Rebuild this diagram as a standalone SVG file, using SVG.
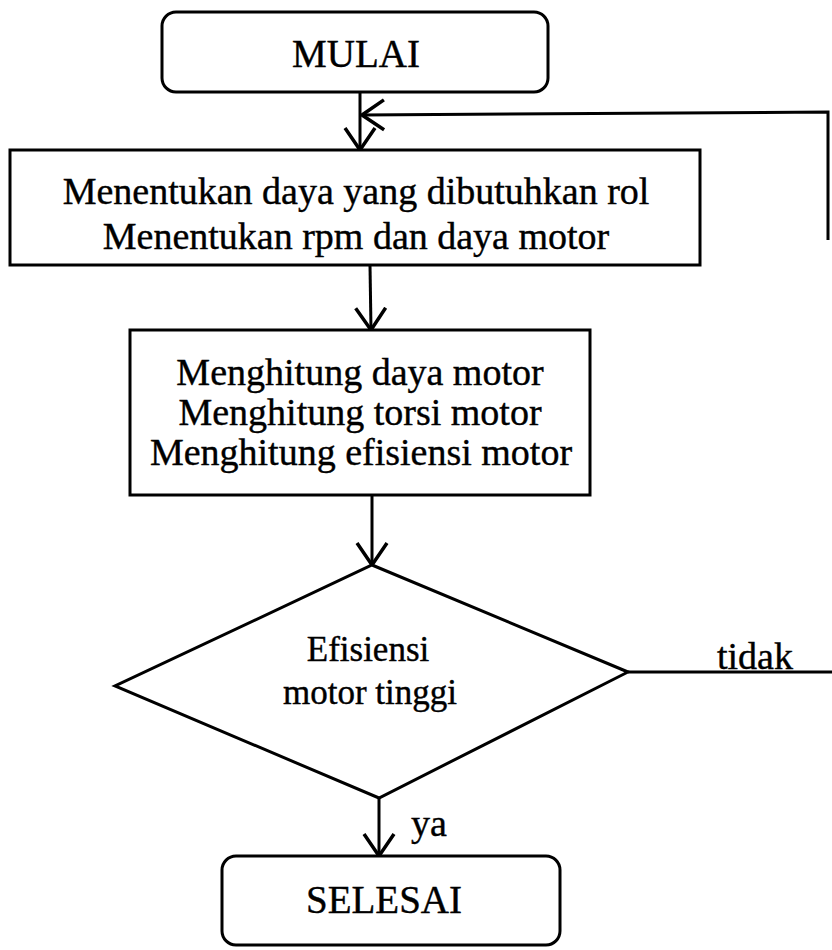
<svg xmlns="http://www.w3.org/2000/svg" width="832" height="950" viewBox="0 0 832 950">
  <defs>
    <marker id="arr" viewBox="0 0 24 34" refX="23" refY="17" markerWidth="24" markerHeight="34" markerUnits="userSpaceOnUse" orient="auto">
      <path d="M1,2 L23,17 L1,32" fill="none" stroke="#000" stroke-width="3.5"/>
    </marker>
  </defs>
  <style>
    .shape { fill: #fff; stroke: #000; stroke-width: 3; }
    .line { fill: none; stroke: #000; stroke-width: 3; }
    .t { font-family: "Liberation Serif", "Times New Roman", serif; font-size: 38px; fill: #000; stroke: #000; stroke-width: 0.4; text-anchor: middle; }
    .d { font-size: 35px; }
    .lbl { font-family: "Liberation Serif", "Times New Roman", serif; font-size: 38px; fill: #000; stroke: #000; stroke-width: 0.4; }
  </style>
  <rect width="832" height="950" fill="#fff"/>

  <g id="connectors">
    <line class="line" x1="360" y1="92" x2="360" y2="150" marker-end="url(#arr)"/>
    <polyline class="line" points="828,240 828,112 362,115" marker-end="url(#arr)"/>
    <line class="line" x1="370" y1="265" x2="371" y2="330" marker-end="url(#arr)"/>
    <line class="line" x1="372" y1="495" x2="372" y2="565" marker-end="url(#arr)"/>
    <line class="line" x1="628" y1="672" x2="832" y2="672"/>
    <line class="line" x1="379" y1="798" x2="379" y2="856" marker-end="url(#arr)"/>
    <text class="lbl" x="717" y="669">tidak</text>
    <text class="lbl" x="411" y="836">ya</text>
  </g>

  <g id="mulai">
    <rect class="shape" x="162" y="12" width="386" height="80" rx="14"/>
    <text class="t" x="356" y="67" style="font-size:39px">MULAI</text>
  </g>

  <g id="menentukan">
    <rect class="shape" x="10" y="150" width="690" height="115"/>
    <text class="t" x="356" y="204">Menentukan daya yang dibutuhkan rol</text>
    <text class="t" x="356" y="249">Menentukan rpm dan daya motor</text>
  </g>

  <g id="menghitung">
    <rect class="shape" x="130" y="330" width="460" height="165"/>
    <text class="t" x="360" y="385">Menghitung daya motor</text>
    <text class="t" x="360" y="425">Menghitung torsi motor</text>
    <text class="t" x="361" y="465">Menghitung efisiensi motor</text>
  </g>

  <g id="keputusan">
    <polygon class="shape" points="372,565 628,672 379,798 115,686"/>
    <text class="t d" x="368" y="661">Efisiensi</text>
    <text class="t d" x="370" y="704">motor tinggi</text>
  </g>

  <g id="selesai">
    <rect class="shape" x="222" y="856" width="338" height="89" rx="14"/>
    <text class="t" x="384" y="913" style="font-size:39px">SELESAI</text>
  </g>
</svg>
